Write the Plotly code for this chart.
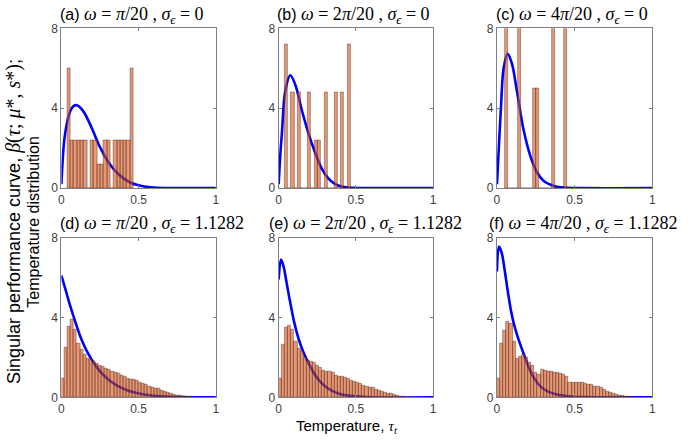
import plotly.graph_objects as go

# ---------------- data ----------------
# top row histograms (sigma_eps = 0): bin start, bin width, bar heights
top_bin_start = [0.037, 0.037, 0.052]
top_bin_width = [0.0215, 0.0215, 0.02]
hist_a = [6.0, 2.4, 2.4, 2.4, 2.4, 2.4, 0, 2.4, 2.4, 1.2, 1.2, 2.4, 2.4, 0, 2.4, 2.4, 2.4, 2.4, 2.4, 6.0]
hist_b = [7.2, 0, 4.8, 0, 4.8, 0, 0, 4.8, 0, 2.4, 2.4, 0, 4.8, 0, 0, 4.8, 0, 4.8, 0, 7.2]
hist_c = [10, 0, 0, 0, 10, 0, 0, 0, 0, 5.0, 5.0, 0, 0, 0, 0, 10, 0, 0, 0, 10]

# bottom row histograms (sigma_eps = 1.1282): bins of width 0.02 starting at 0
bot_bin_start = 0.0
bot_bin_width = 0.02
hist_d = [0.95, 2.5, 3.55, 3.9, 3.4, 2.7, 2.4, 2.15, 1.95, 1.9, 1.8, 1.7, 1.6, 1.55, 1.45,
          1.4, 1.3, 1.25, 1.2, 1.1, 1.05, 0.95, 0.9, 0.88, 0.82, 0.75, 0.7, 0.62, 0.55, 0.5,
          0.45, 0.42, 0.35, 0.3, 0.25, 0.2, 0.15, 0.1, 0.08, 0.05, 0.03, 0.02, 0.01]
hist_e = [0.95, 2.65, 3.5, 3.6, 3.4, 2.8, 2.45, 2.3, 2.0, 1.85, 1.8, 1.75, 1.6, 1.5, 1.35,
          1.3, 1.3, 1.25, 1.1, 1.05, 1.05, 1.0, 0.95, 0.85, 0.8, 0.75, 0.7, 0.6, 0.55, 0.5,
          0.48, 0.4, 0.35, 0.3, 0.25, 0.2, 0.18, 0.12, 0.08, 0.05, 0.03, 0.01, 0.01]
hist_f = [0.95, 2.7, 3.35, 3.8, 3.7, 2.8, 1.95, 2.05, 2.15, 2.0, 1.75, 1.6, 1.25, 1.15, 1.4,
          1.35, 1.3, 1.3, 1.25, 1.25, 1.2, 1.15, 1.05, 0.75, 0.75, 0.75, 0.72, 0.72, 0.7, 0.65,
          0.62, 0.55, 0.52, 0.5, 0.4, 0.3, 0.25, 0.2, 0.15, 0.1, 0.08, 0.05, 0.02, 0.01]

# singular performance curves
curve_a_x = [0, 0.01, 0.02, 0.04, 0.06, 0.08, 0.1, 0.12, 0.15, 0.2, 0.25, 0.3, 0.35, 0.4, 0.45, 0.5, 0.55, 0.6, 0.7, 1.0]
curve_a_y = [0.2, 1.6, 2.5, 3.4, 3.9, 4.12, 4.15, 4.05, 3.75, 2.95, 2.05, 1.35, 0.85, 0.5, 0.27, 0.14, 0.07, 0.03, 0.005, 0]
curve_b_x = [0, 0.01, 0.021, 0.043, 0.075, 0.107, 0.15, 0.192, 0.235, 0.278, 0.32, 0.363, 0.406, 0.45, 0.5, 0.6, 1.0]
curve_b_y = [0.2, 1.6, 2.77, 4.87, 5.65, 5.19, 3.9, 2.77, 1.8, 0.99, 0.5, 0.21, 0.08, 0.03, 0.01, 0.0, 0]
curve_c_x = [0, 0.012, 0.026, 0.043, 0.068, 0.096, 0.128, 0.171, 0.214, 0.256, 0.299, 0.342, 0.385, 0.45, 0.55, 1.0]
curve_c_y = [0.2, 2.0, 4.06, 6.0, 6.73, 6.24, 4.87, 2.93, 1.63, 0.82, 0.37, 0.18, 0.07, 0.02, 0.0, 0]
curve_d_x = [0, 0.03, 0.06, 0.09, 0.12, 0.15, 0.18, 0.21, 0.25, 0.3, 0.35, 0.4, 0.45, 0.5, 0.6, 0.7, 0.8, 1.0]
curve_d_y = [6.1, 5.3, 4.5, 3.78, 3.1, 2.55, 2.1, 1.72, 1.3, 0.92, 0.64, 0.44, 0.29, 0.19, 0.08, 0.03, 0.01, 0]
curve_e_x = [0, 0.015, 0.03, 0.05, 0.065, 0.081, 0.1, 0.128, 0.155, 0.18, 0.21, 0.235, 0.27, 0.3, 0.35, 0.4, 0.5, 0.6, 1.0]
curve_e_y = [5.9, 6.9, 6.6, 5.8, 5.15, 4.5, 3.78, 2.95, 2.36, 1.92, 1.47, 1.13, 0.77, 0.56, 0.31, 0.16, 0.05, 0.01, 0]
curve_f_x = [0, 0.013, 0.03, 0.05, 0.07, 0.09, 0.11, 0.13, 0.15, 0.17, 0.19, 0.21, 0.24, 0.28, 0.32, 0.36, 0.4, 0.5, 0.6, 1.0]
curve_f_y = [6.3, 7.55, 7.25, 6.35, 5.3, 4.35, 3.65, 3.12, 2.65, 2.22, 1.8, 1.4, 0.95, 0.55, 0.33, 0.2, 0.12, 0.03, 0.01, 0]

panel_labels = ["(a)", "(b)", "(c)", "(d)", "(e)", "(f)"]
omega_text = ["π/20", "2π/20", "4π/20", "π/20", "2π/20", "4π/20"]
sigma_text = ["0", "0", "0", "1.1282", "1.1282", "1.1282"]
x_ticks = [0, 0.5, 1]
x_ticktext = ["0", "0.5", "1"]
y_ticks = [0, 4, 8]
y_ticktext = ["0", "4", "8"]

# ---------------- figure ----------------
W, H = 691, 447
BAR_FILL = "rgba(217,83,25,0.6)"
BAR_EDGE = "rgba(40,20,10,0.6)"
CURVE = "#0000FF"
SERIF = "Liberation Serif"
SANS = "Liberation Sans"

hists = [
    (top_bin_start[0], top_bin_width[0], hist_a),
    (top_bin_start[1], top_bin_width[1], hist_b),
    (top_bin_start[2], top_bin_width[2], hist_c),
    (bot_bin_start, bot_bin_width, hist_d),
    (bot_bin_start, bot_bin_width, hist_e),
    (bot_bin_start, bot_bin_width, hist_f),
]
curves = [(curve_a_x, curve_a_y), (curve_b_x, curve_b_y), (curve_c_x, curve_c_y),
          (curve_d_x, curve_d_y), (curve_e_x, curve_e_y), (curve_f_x, curve_f_y)]

col_dom = [[59 / W, 215 / W], [278.5 / W, 434.5 / W], [499 / W, 656 / W]]
row_dom = [[1 - 187 / H, 1 - 22 / H], [1 - 403 / H, 1 - 238 / H]]

fig = go.Figure()
layout = {}
axis_common = dict(showline=True, linecolor="#808080", linewidth=1, mirror="ticks",
                   ticks="inside", ticklen=3, tickcolor="#808080", showgrid=False,
                   zeroline=False, tickfont=dict(family=SANS, size=12, color="#404040"))

for i in range(6):
    r, c = divmod(i, 3)
    n = i + 1
    sfx = "" if n == 1 else str(n)
    on = i + 7
    layout[f"xaxis{sfx}"] = dict(domain=col_dom[c], anchor=f"y{sfx}", range=[0, 1],
                                 tickvals=x_ticks, ticktext=x_ticktext, **axis_common)
    layout[f"yaxis{sfx}"] = dict(domain=row_dom[r], anchor=f"x{sfx}", range=[0, 8],
                                 tickvals=y_ticks, ticktext=y_ticktext, **axis_common)
    layout[f"xaxis{on}"] = dict(overlaying=f"x{sfx}", anchor=f"y{on}", range=[0, 1], visible=False)
    layout[f"yaxis{on}"] = dict(overlaying=f"y{sfx}", anchor=f"x{on}", range=[0, 8], visible=False)

    cx, cy = curves[i]
    fig.add_trace(go.Scatter(x=cx, y=cy, mode="lines",
                             line=dict(color=CURVE, width=2.6, shape="spline", smoothing=1.0),
                             xaxis=f"x{sfx}", yaxis=f"y{sfx}", showlegend=False, hoverinfo="skip"))
    start, w, hv = hists[i]
    centers = [start + w * (k + 0.5) for k in range(len(hv))]
    fig.add_trace(go.Bar(x=centers, y=hv, width=w,
                         marker=dict(color=BAR_FILL, line=dict(color=BAR_EDGE, width=0.6)),
                         xaxis=f"x{on}", yaxis=f"y{on}", showlegend=False, hoverinfo="skip"))

# panel titles
title_pos = [(56, 9), (275, 9), (496, 9), (56, 225), (267, 225), (489, 225)]
annotations = []
for i in range(6):
    px, py = title_pos[i]
    om = omega_text[i].replace("π", "<i>π</i>")
    txt = (f"{panel_labels[i]} <span style='font-family:{SERIF};font-size:18px'><i>ω</i> = {om} , "
           f"<i>σ</i><sub><i>ϵ</i></sub> = {sigma_text[i]}</span>")
    annotations.append(dict(text=txt, x=px / W, y=1 - py / H, xref="paper", yref="paper",
                            xanchor="left", yanchor="middle", showarrow=False,
                            font=dict(family=SANS, size=16, color="#000000")))

# y-axis label (two lines)
annotations.append(dict(text=(f"Singular performance curve, <span style='font-family:{SERIF};font-size:20px'>"
                              f"<i>β</i>(<i>τ</i>; <i>μ</i>*, <i>s</i>*)</span>;"),
                        x=10 / W, y=1 - 221 / H, xref="paper", yref="paper", textangle=-90,
                        xanchor="center", yanchor="middle", showarrow=False,
                        font=dict(family=SANS, size=18, color="#000000")))
annotations.append(dict(text="Temperature distribution",
                        x=30 / W, y=1 - 222 / H, xref="paper", yref="paper", textangle=-90,
                        xanchor="center", yanchor="middle", showarrow=False,
                        font=dict(family=SANS, size=16, color="#000000")))
# x-axis label
annotations.append(dict(text=f"Temperature, <span style='font-family:{SERIF}'><i>τ</i><sub><i>t</i></sub></span>",
                        x=348 / W, y=1 - 433 / H, xref="paper", yref="paper",
                        xanchor="center", yanchor="middle", showarrow=False,
                        font=dict(family=SANS, size=15, color="#000000")))

fig.update_layout(width=W, height=H, margin=dict(l=0, r=0, t=0, b=0),
                  paper_bgcolor="white", plot_bgcolor="white", barmode="overlay",
                  bargap=0, annotations=annotations, **layout)

fig.write_html("out.html")
